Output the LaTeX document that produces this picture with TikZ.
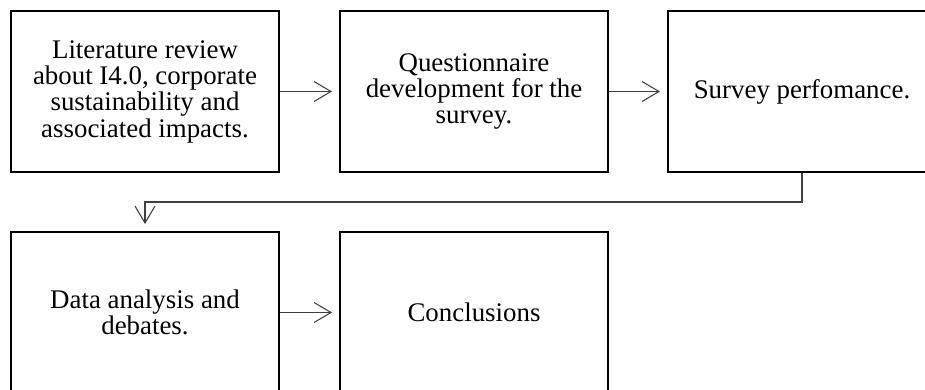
\documentclass[tikz,border=0pt]{standalone}
\usepackage{fontspec}
\setmainfont{Liberation Serif}
\usetikzlibrary{arrows.meta}

\begin{document}
\begin{tikzpicture}[x=.02cm,y=-.02cm]

      \useasboundingbox (0,0) rectangle (925,389);
      \clip (0,0) rectangle (925,389);

      \begin{scope}[every node/.style={rectangle,draw,line width=1.1pt,
          minimum width=5.36cm,minimum height=3.22cm,align=center,
          font=\fontsize{15.3}{15}\selectfont}]
        \node (1) at (145,91.5)  {Literature review\\about I4.0, corporate\\sustainability and\\associated impacts.};
        \node (2) at (474,91.5)  {Questionnaire\\development for the\\survey.};
        \node (3) at (802,91.5)  {Survey perfomance.};
        \node (4) at (145,312.5) {Data analysis and\\debates.};
        \node (5) at (474,312.5) {Conclusions};
      \end{scope}

      \coordinate (k) at (145,202);

      \begin{scope}[every edge/.style={draw,line width=.6pt,draw=black!75,
          -{Straight Barb[length=.34cm,width=.4cm]},shorten >=.14cm}]
        \path (1) edge (2);
        \path (2) edge (3);
        \path (4) edge (5);
        \path (3.south) edge[to path={|- (k) -- (\tikztotarget)}] (4.north);
      \end{scope}

    \end{tikzpicture}
\end{document}
